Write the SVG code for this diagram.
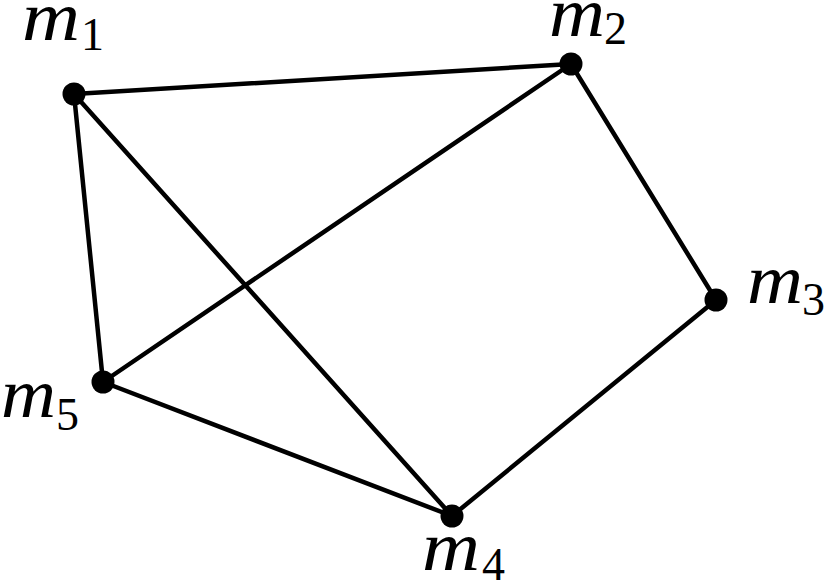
<svg xmlns="http://www.w3.org/2000/svg" width="832" height="583" viewBox="0 0 832 583">
<style>
.e{stroke:#000;stroke-width:4.5;stroke-linecap:round;fill:none}
.n{fill:#000}
.m{font-family:"Liberation Serif","DejaVu Serif",serif;font-style:italic;font-size:70px;fill:#000}
.s{font-family:"Liberation Serif","DejaVu Serif",serif;font-size:46px;fill:#000}
</style>
<rect width="832" height="583" fill="#fff"/>
<g id="edges">
<line class="e" x1="74" y1="94" x2="571" y2="64"/>
<line class="e" x1="74" y1="94" x2="103" y2="382"/>
<line class="e" x1="74" y1="94" x2="452" y2="516"/>
<line class="e" x1="571" y1="64" x2="103" y2="382"/>
<line class="e" x1="571" y1="64" x2="716" y2="300"/>
<line class="e" x1="716" y1="300" x2="452" y2="516"/>
<line class="e" x1="103" y1="382" x2="452" y2="516"/>
</g>
<g id="m1"><circle class="n" cx="74" cy="94" r="11.5"/><text class="m" x="22" y="40" textLength="58" lengthAdjust="spacingAndGlyphs">m</text><text class="s" x="81" y="50">1</text></g>
<g id="m2"><circle class="n" cx="571" cy="64" r="11.5"/><text class="m" x="549" y="36" textLength="56" lengthAdjust="spacingAndGlyphs">m</text><text class="s" x="604" y="44">2</text></g>
<g id="m3"><circle class="n" cx="716" cy="300" r="11.5"/><text class="m" x="747" y="303" textLength="56" lengthAdjust="spacingAndGlyphs">m</text><text class="s" x="802" y="315">3</text></g>
<g id="m4"><circle class="n" cx="452" cy="516" r="11.5"/><text class="m" x="422" y="570" textLength="58" lengthAdjust="spacingAndGlyphs">m</text><text class="s" x="482" y="580">4</text></g>
<g id="m5"><circle class="n" cx="103" cy="382" r="11.5"/><text class="m" x="1" y="417" textLength="55" lengthAdjust="spacingAndGlyphs">m</text><text class="s" x="56" y="430">5</text></g>
</svg>
